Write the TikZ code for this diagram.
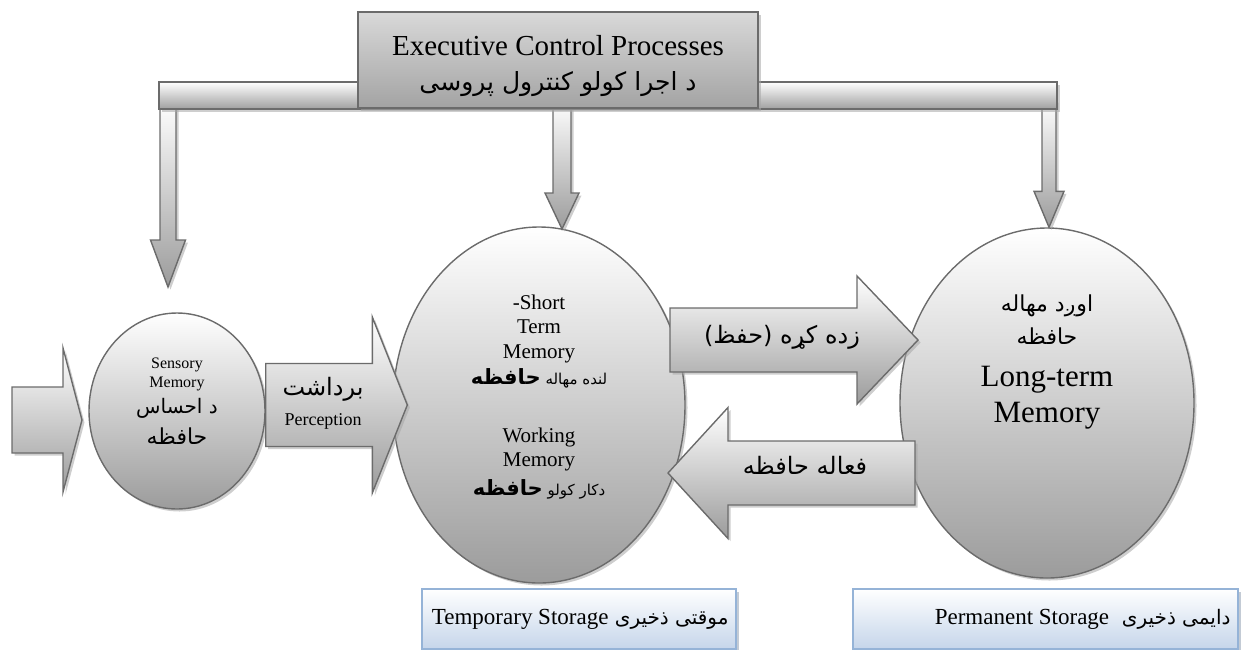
\documentclass[tikz,border=0pt]{standalone}
\usepackage{fontspec}
\setmainfont{Liberation Serif}
\newfontfamily\arabicfont[Script=Arabic]{DejaVu Sans}
\TeXXeTstate=1
\usepackage{xcolor}
\usetikzlibrary{shapes.geometric, calc, shadows}

\definecolor{edgegray}{HTML}{6B6B6B}
\definecolor{storeedge}{HTML}{95B3D7}
\definecolor{storefill}{HTML}{C5D5EA}

\newcommand{\ar}[1]{{\arabicfont\beginR #1\endR}}
\newcommand{\fsz}[2]{\fontsize{#1}{#2}\selectfont}
% block arrow: from, to, half shaft, half head, head length, name
\newcommand{\blockarrow}[6]{%
  \coordinate (#6-hb) at ($(#2)!#5!(#1)$);
  \path[blockarrow] ($(#1)!#3!90:(#2)$) -- ($(#6-hb)!#3!90:(#2)$) -- ($(#6-hb)!#4!90:(#2)$)
    -- (#2) -- ($(#6-hb)!#4!-90:(#2)$) -- ($(#6-hb)!#3!-90:(#2)$) -- ($(#1)!#3!-90:(#2)$) -- cycle;
}

\begin{document}
\begin{tikzpicture}[
    x=1pt, y=-1pt,
    shadowed/.style={drop shadow={shadow xshift=2.5pt, shadow yshift=-2.5pt, fill=black!35, opacity=0.55}},
    memory/.style={ellipse, draw=edgegray, line width=1.4pt, top color=white, bottom color=gray!78, inner sep=0pt, shadowed},
    blockarrow/.style={draw=edgegray, line width=1.4pt, top color=white, bottom color=gray!78, shadowed},
    railbar/.style={rectangle, draw=edgegray, line width=1.4pt, top color=white, bottom color=gray!75, inner sep=0pt, shadowed},
    header/.style={rectangle, draw=edgegray, line width=1.4pt, top color=gray!30, bottom color=gray!72, inner sep=0pt, shadowed},
    storage/.style={rectangle, draw=storeedge, line width=1.4pt, top color=white, bottom color=storefill, inner sep=0pt,
      drop shadow={shadow xshift=2.5pt, shadow yshift=-2.5pt, fill=storeedge!70!black, opacity=0.4}},
    memtext/.style={align=center, inner sep=0pt}
]
\useasboundingbox (0,0) rectangle (1252,649);

% Memory stores
\node[memory, minimum width=176pt, minimum height=196pt] (sens) at (177,411) {};
\node[memory, minimum width=292pt, minimum height=356pt] (stm) at (539,405) {};
\node[memory, minimum width=294pt, minimum height=350pt] (ltm) at (1047,403) {};

% Arrows down from the control bar
\coordinate (d1-tail) at (168,100);
\coordinate (d1-tip) at (168,287);
\blockarrow{d1-tail}{d1-tip}{8pt}{17.5pt}{47pt}{d1}
\coordinate (d2-tail) at (562,100);
\coordinate (d2-tip) at (562,229);
\blockarrow{d2-tail}{d2-tip}{9pt}{17pt}{36pt}{d2}
\coordinate (d3-tail) at (1049,100);
\coordinate (d3-tip) at (ltm.north -| d3-tail);
\blockarrow{d3-tail}{d3-tip}{7pt}{15pt}{36pt}{d3}

% Control bar and title box
\node[railbar, minimum width=898pt, minimum height=27pt] (bar) at (608,95.5) {};
\node[header, minimum width=400pt, minimum height=96pt] (exec) at (558,60) {};
\node[memtext, font=\fsz{29}{35}] (exec-text) at (558,66)
  {Executive Control Processes\\\ar{\fsz{25}{30}د اجرا کولو کنترول پروسی}};

% Flow between the stores
\coordinate (in-tail) at (12,420);
\coordinate (in-tip) at (82,420);
\blockarrow{in-tail}{in-tip}{33pt}{72pt}{19pt}{inp}
\coordinate (per-tail) at (sens.east |- stm.west);
\coordinate (per-tip) at ($(stm.west)+(15,0)$);
\blockarrow{per-tail}{per-tip}{41.5pt}{88pt}{35pt}{per}
\coordinate (ret-tail) at (670,340);
\coordinate (ret-tip) at (918,340);
\blockarrow{ret-tail}{ret-tip}{32pt}{64pt}{61pt}{ret}
\coordinate (rec-tail) at (915,473);
\coordinate (rec-tip) at (668,473);
\blockarrow{rec-tail}{rec-tip}{32pt}{65.5pt}{60pt}{rec}

% Texts
\node[memtext, font=\fsz{16}{19}] (sens-text) at (177,401)
  {Sensory\\Memory\\[7pt]\ar{\fsz{20}{24}د احساس}\\[8pt]\ar{\fsz{22}{26}حافظه}};
\node[memtext, font=\fsz{18}{30}] (per-text) at (323,403) {\ar{\fsz{24}{30}برداشت}\\Perception};
\node[memtext, font=\fsz{21}{24.5}] (stm-text) at (539,397)
  {-Short\\Term\\Memory\\[2pt]\ar{\fsz{15}{18}لنده مهاله {\bfseries\fsz{21}{24}حافظه}}\\[33pt]Working\\Memory\\[4pt]\ar{\fsz{15}{18}دکار کولو {\bfseries\fsz{21}{24}حافظه}}};
\node[memtext] (ret-text) at (782,337) {\ar{\fsz{24}{28}زده کړه (حفظ)}};
\node[memtext] (rec-text) at (805,465) {\ar{\fsz{24}{28}فعاله حافظه}};
\node[memtext, font=\fsz{31}{36}] (ltm-text) at (1047,362)
  {\ar{\fsz{22}{33}اوږد مهاله}\\[-3pt]\ar{\fsz{22}{33}حافظه}\\[6pt]Long-term\\Memory};

% Storage labels
\node[storage, minimum width=314pt, minimum height=60pt] (temp) at (579,619) {};
\node[storage, minimum width=385pt, minimum height=60pt] (perm) at (1045.5,619) {};
\node[memtext, anchor=east] (temp-text) at ($(temp.east)+(-8,0)$)
  {\ar{\fsz{20}{24}موقتی ذخیری \beginL{\rmfamily\fsz{23}{24}Temporary Storage}\endL}};
\node[memtext, anchor=east] (perm-text) at ($(perm.east)+(-8,0)$)
  {\ar{\fsz{20}{24}دایمی ذخیری\ \ \beginL{\rmfamily\fsz{23}{24}Permanent Storage}\endL}};

\end{tikzpicture}
\end{document}
